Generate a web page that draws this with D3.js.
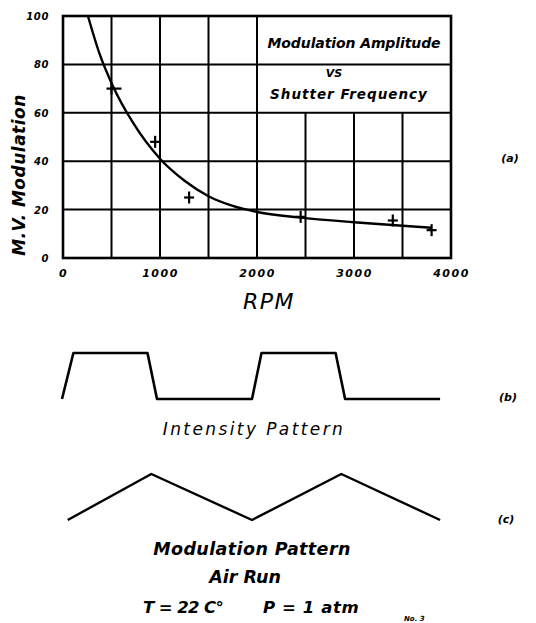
<!DOCTYPE html>
<html>
<head>
<meta charset="utf-8">
<script src="https://cdn.jsdelivr.net/npm/d3@7"></script>
<style>
  body { margin: 0; background: #fff; }
  svg { display: block; }
  text { font-family: "DejaVu Sans", sans-serif; font-style: italic; fill: #000; }
</style>
</head>
<body>
<svg></svg>
<script>
const width = 536, height = 623;

// (a) measured points, RPM vs mV modulation
const rpm = [500, 950, 1300, 2450, 3400, 3800];
const mv = [70, 48, 25, 17, 15.5, 11.5];

// hand drawn fitted curve
const curveRpm = [257, 380, 515, 720, 1000, 1250, 1500, 1750, 2000, 2500, 3000, 3500, 3800];
const curveMv = [100, 84, 71, 56, 41, 32, 25.5, 21.5, 19, 16.5, 14.8, 13.3, 12.5];

const xTicks = [0, 1000, 2000, 3000, 4000];
const yTicks = [0, 20, 40, 60, 80, 100];
const xGrid = [0, 500, 1000, 1500, 2000, 2500, 3000, 3500, 4000];

// (b) intensity pattern, time in shutter periods, level 0/1
const intensityT = [0, 0.06, 0.45, 0.5, 1.0, 1.05, 1.44, 1.49, 1.99];
const intensityLevel = [0, 1, 1, 0, 0, 1, 1, 0, 0];

// (c) modulation pattern
const modT = [0.03, 0.47, 1.0, 1.47, 1.99];
const modLevel = [0, 1, 0, 1, 0];

const svg = d3.select("svg")
  .attr("width", width)
  .attr("height", height);

const x = d3.scaleLinear().domain([0, 4000]).range([63, 451]);
const y = d3.scaleLinear().domain([0, 100]).range([258, 16]);

const plot = svg.append("g");

// grid (the title box hides the upper part of the 2500-3500 lines)
plot.selectAll("line.vg")
  .data(xGrid)
  .join("line")
  .attr("class", "vg")
  .attr("x1", d => x(d)).attr("x2", d => x(d))
  .attr("y1", y(0))
  .attr("y2", d => (d > 2000 && d < 4000) ? y(60) : y(100))
  .attr("stroke", "#000")
  .attr("stroke-width", 2);

plot.selectAll("line.hg")
  .data(yTicks)
  .join("line")
  .attr("class", "hg")
  .attr("x1", x(0)).attr("x2", x(4000))
  .attr("y1", d => y(d)).attr("y2", d => y(d))
  .attr("stroke", "#000")
  .attr("stroke-width", 2);

// outer frame a bit heavier
plot.append("rect")
  .attr("x", x(0)).attr("y", y(100))
  .attr("width", x(4000) - x(0)).attr("height", y(0) - y(100))
  .attr("fill", "none").attr("stroke", "#000").attr("stroke-width", 2.6);

// title box
const box = svg.append("g");
box.append("text").attr("x", 354).attr("y", 48).attr("text-anchor", "middle")
  .attr("font-size", 14).attr("font-weight", "bold").attr("letter-spacing", -0.1)
  .text("Modulation Amplitude");
box.append("text").attr("x", 334).attr("y", 77).attr("text-anchor", "middle")
  .attr("font-size", 11).attr("font-weight", "bold")
  .text("VS");
box.append("text").attr("x", 349).attr("y", 99).attr("text-anchor", "middle")
  .attr("font-size", 13.5).attr("font-weight", "bold").attr("letter-spacing", 1)
  .text("Shutter Frequency");

// axes labels
const xAxis = d3.axisBottom(x).tickValues(xTicks).tickSize(0).tickPadding(0)
  .tickFormat(d3.format("d"));
svg.append("g")
  .attr("transform", `translate(0,${y(0) + 19})`)
  .call(xAxis)
  .call(g => g.select(".domain").remove())
  .call(g => g.selectAll("text")
    .attr("font-family", "DejaVu Sans").attr("font-style", "italic")
    .attr("font-weight", "bold").attr("font-size", 11).attr("letter-spacing", 1.5)
    .attr("fill", "#000").attr("dy", 0));

const yAxis = d3.axisLeft(y).tickValues(yTicks).tickSize(0).tickPadding(0);
svg.append("g")
  .attr("transform", `translate(${x(0) - 14},0)`)
  .call(yAxis)
  .call(g => g.select(".domain").remove())
  .call(g => g.selectAll("text")
    .attr("font-family", "DejaVu Sans").attr("font-style", "italic")
    .attr("font-weight", "bold").attr("font-size", 10).attr("letter-spacing", 0.6)
    .attr("fill", "#000").attr("dy", "0.35em"));

svg.append("text")
  .attr("x", 269).attr("y", 309).attr("text-anchor", "middle")
  .attr("font-size", 22).attr("letter-spacing", 1.5)
  .text("RPM");

svg.append("text")
  .attr("transform", `translate(25,${(y(0) + y(100)) / 2 + 38}) rotate(-90)`)
  .attr("text-anchor", "middle")
  .attr("font-size", 17).attr("font-weight", "bold").attr("letter-spacing", 0.5)
  .text("M.V. Modulation");

svg.append("text")
  .attr("x", 510).attr("y", 162).attr("text-anchor", "middle")
  .attr("font-size", 11).attr("font-weight", "bold")
  .text("(a)");

// fitted curve
const curveData = curveRpm.map((r, i) => [r, curveMv[i]]);
plot.append("path")
  .datum(curveData)
  .attr("fill", "none")
  .attr("stroke", "#000")
  .attr("stroke-width", 2.4)
  .attr("d", d3.line().x(d => x(d[0])).y(d => y(d[1])).curve(d3.curveMonotoneX));

// data crosses
const pts = rpm.map((r, i) => [r, mv[i]]);
const cross = plot.selectAll("g.pt")
  .data(pts)
  .join("g")
  .attr("class", "pt")
  .attr("transform", d => `translate(${x(d[0])},${y(d[1])})`);
cross.append("line")
  .attr("x1", -5).attr("x2", (d, i) => i === 0 ? 10 : 5)
  .attr("stroke", "#000").attr("stroke-width", 2.2);
cross.append("line")
  .attr("y1", -6).attr("y2", 6)
  .attr("stroke", "#000").attr("stroke-width", 2.2);

// (b) and (c) waveforms
const t = d3.scaleLinear().domain([0, 2]).range([62, 442]);
const yb = d3.scaleLinear().domain([0, 1]).range([399, 353]);
const yc = d3.scaleLinear().domain([0, 1]).range([520, 474]);

svg.append("path")
  .datum(intensityT.map((v, i) => [v, intensityLevel[i]]))
  .attr("fill", "none").attr("stroke", "#000").attr("stroke-width", 2.6)
  .attr("stroke-linejoin", "round")
  .attr("d", d3.line().x(d => t(d[0])).y(d => yb(d[1])));

svg.append("path")
  .datum(modT.map((v, i) => [v, modLevel[i]]))
  .attr("fill", "none").attr("stroke", "#000").attr("stroke-width", 2.4)
  .attr("stroke-linejoin", "round")
  .attr("d", d3.line().x(d => t(d[0])).y(d => yc(d[1])));

svg.append("text")
  .attr("x", 254).attr("y", 435).attr("text-anchor", "middle")
  .attr("font-size", 17).attr("letter-spacing", 2.4)
  .text("Intensity Pattern");
svg.append("text")
  .attr("x", 508).attr("y", 401).attr("text-anchor", "middle")
  .attr("font-size", 11).attr("font-weight", "bold")
  .text("(b)");

svg.append("text")
  .attr("x", 252).attr("y", 555).attr("text-anchor", "middle")
  .attr("font-size", 17.5).attr("font-weight", "bold").attr("letter-spacing", 0.4)
  .text("Modulation Pattern");
svg.append("text")
  .attr("x", 506).attr("y", 523).attr("text-anchor", "middle")
  .attr("font-size", 11).attr("font-weight", "bold")
  .text("(c)");

svg.append("text")
  .attr("x", 245).attr("y", 583).attr("text-anchor", "middle")
  .attr("font-size", 17.5).attr("font-weight", "bold")
  .text("Air Run");

svg.append("text")
  .attr("x", 143).attr("y", 613)
  .attr("font-size", 16.5).attr("font-weight", "bold").attr("letter-spacing", -0.6)
  .text("T = 22 C°");
svg.append("text")
  .attr("x", 263).attr("y", 613)
  .attr("font-size", 16.5).attr("font-weight", "bold").attr("letter-spacing", 0.6)
  .text("P = 1 atm");

svg.append("text")
  .attr("x", 404).attr("y", 621)
  .attr("font-size", 7).attr("font-weight", "bold")
  .text("No. 3");
</script>
</body>
</html>
